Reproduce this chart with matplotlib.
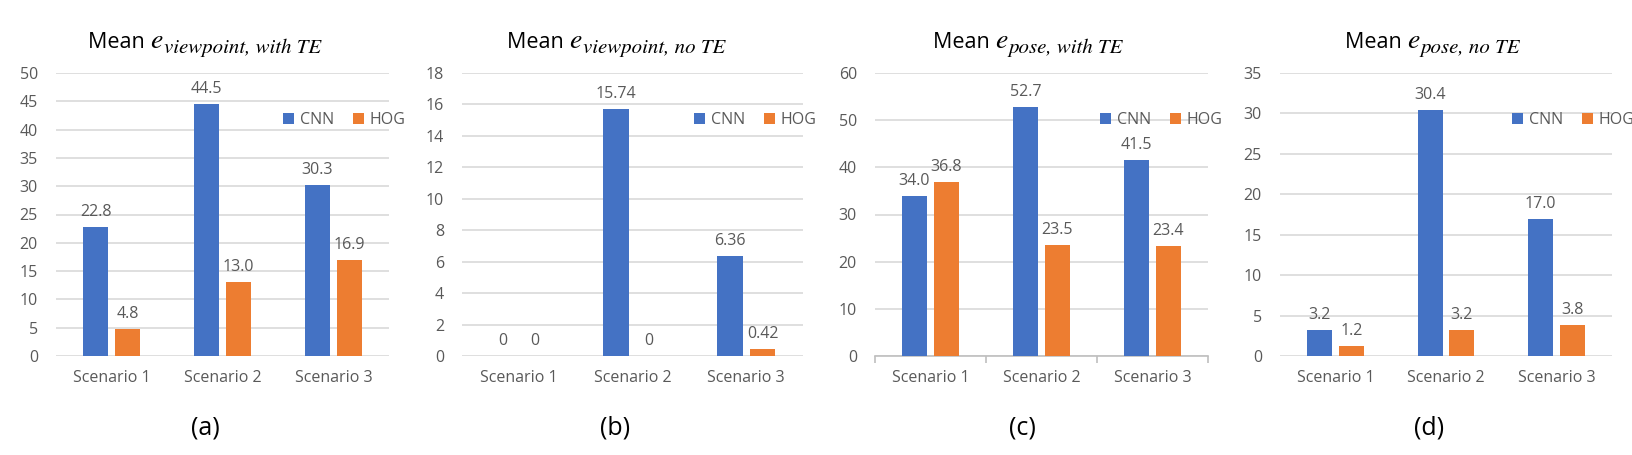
import matplotlib
matplotlib.use("Agg")
import matplotlib.pyplot as plt
import numpy as np

plt.rcParams['font.family'] = ['Open Sans', 'DejaVu Sans']
plt.rcParams['mathtext.fontset'] = 'stix'

categories = ["Scenario 1", "Scenario 2", "Scenario 3"]
series_names = ["CNN", "HOG"]

cnn_view_te = [22.8, 44.5, 30.3]
hog_view_te = [4.8, 13.0, 16.9]
cnn_view_note = [0, 15.74, 6.36]
hog_view_note = [0, 0, 0.42]
cnn_pose_te = [34.0, 52.7, 41.5]
hog_pose_te = [36.8, 23.5, 23.4]
cnn_pose_note = [3.2, 30.4, 17.0]
hog_pose_note = [1.2, 3.2, 3.8]

title_main = "Mean "
title_var = "e"
title_subs = ["viewpoint, with TE", "viewpoint, no TE", "pose, with TE", "pose, no TE"]
letters = ["(a)", "(b)", "(c)", "(d)"]
y_max = [50, 18, 60, 35]
y_step = [5, 2, 10, 5]
label_fmt = ["{:.1f}", "{:g}", "{:.1f}", "{:.1f}"]

panels = [(cnn_view_te, hog_view_te), (cnn_view_note, hog_view_note),
          (cnn_pose_te, hog_pose_te), (cnn_pose_note, hog_pose_note)]

BLUE = "#4472C4"
ORANGE = "#ED7D31"
TXT = "#595959"
GRID = "#D9D9D9"

W, H = 1633, 455
fig = plt.figure(figsize=(W / 100, H / 100), dpi=100)

ax_px = [(56, 389), (462, 803), (875, 1208), (1280, 1612)]
title_left = [88, 507, 933, 1345]
letter_x = [205, 615, 1022, 1429]
legend_x = [283, 694, 1100, 1512]
top_px, bot_px = 73, 356

x = np.arange(len(categories))
bw = 0.225
off = 0.144
FS = 11.5

for i, ((cnn, hog), (l, r)) in enumerate(zip(panels, ax_px)):
    ax = fig.add_axes([l / W, 1 - bot_px / H, (r - l) / W, (bot_px - top_px) / H])
    b1 = ax.bar(x - off, cnn, bw, color=BLUE, label=series_names[0], zorder=3)
    b2 = ax.bar(x + off, hog, bw, color=ORANGE, label=series_names[1], zorder=3)
    for bars, vals in ((b1, cnn), (b2, hog)):
        for rect, v in zip(bars, vals):
            ax.annotate(label_fmt[i].format(v),
                        (rect.get_x() + rect.get_width() / 2, v),
                        xytext=(0, 5), textcoords="offset points",
                        ha="center", va="bottom", fontsize=FS, color=TXT)
    ax.set_xlim(-0.5, 2.5)
    ax.set_ylim(0, y_max[i])
    ax.set_yticks(np.arange(0, y_max[i] + 0.01, y_step[i]))
    ax.yaxis.grid(True, color=GRID, linewidth=1.2, zorder=0)
    ax.set_axisbelow(True)
    for s in ax.spines.values():
        s.set_visible(False)
    ax.tick_params(axis="y", length=0, pad=13, labelsize=FS, labelcolor=TXT)
    if i == 2:
        ax.spines["bottom"].set_visible(True)
        ax.spines["bottom"].set_color("#BFBFBF")
        ax.spines["bottom"].set_linewidth(1.2)
        ax.set_xticks([-0.5, 0.5, 1.5, 2.5])
        ax.set_xticklabels([])
        ax.tick_params(axis="x", which="major", length=5, color="#BFBFBF", width=1.2)
        ax.set_xticks(x, minor=True)
        ax.set_xticklabels(categories, minor=True)
        ax.tick_params(axis="x", which="minor", length=0, pad=10,
                       labelsize=FS, labelcolor=TXT)
    else:
        ax.set_xticks(x)
        ax.set_xticklabels(categories)
        ax.tick_params(axis="x", length=0, pad=10, labelsize=FS, labelcolor=TXT)
    ax.legend(loc="center left",
              bbox_to_anchor=((legend_x[i] - l) / (r - l), (bot_px - 120) / (bot_px - top_px)),
              ncol=2, frameon=False, fontsize=FS, handlelength=0.7, handleheight=0.7,
              handletextpad=0.35, columnspacing=1.2, borderaxespad=0, borderpad=0,
              labelcolor=TXT)
    # title: "Mean " + italic e + italic subscript
    t1 = fig.text(title_left[i] / W, 1 - 48 / H, title_main, ha="left", va="baseline",
                  fontsize=15.5, color="black")
    t2 = fig.text(0, 0, title_var, fontfamily="STIXGeneral", style="italic",
                  fontsize=20, color="black", va="baseline", ha="left")
    t2.set_x(title_left[i] / W)
    # position e right after "Mean "
    renderer = fig.canvas.get_renderer()
    bb1 = t1.get_window_extent(renderer)
    t2.set_position((bb1.x1 / W, 1 - 48 / H))
    bb2 = t2.get_window_extent(renderer)
    fig.text(bb2.x1 / W + 1 / W, 1 - 53 / H, title_subs[i], fontfamily="STIXGeneral",
             style="italic", fontsize=15, color="black", va="baseline", ha="left")
    fig.text(letter_x[i] / W, 1 - 428 / H, letters[i], ha="center", va="center",
             fontsize=18, color="black")

fig.savefig("out.png", dpi=100, facecolor="white")
